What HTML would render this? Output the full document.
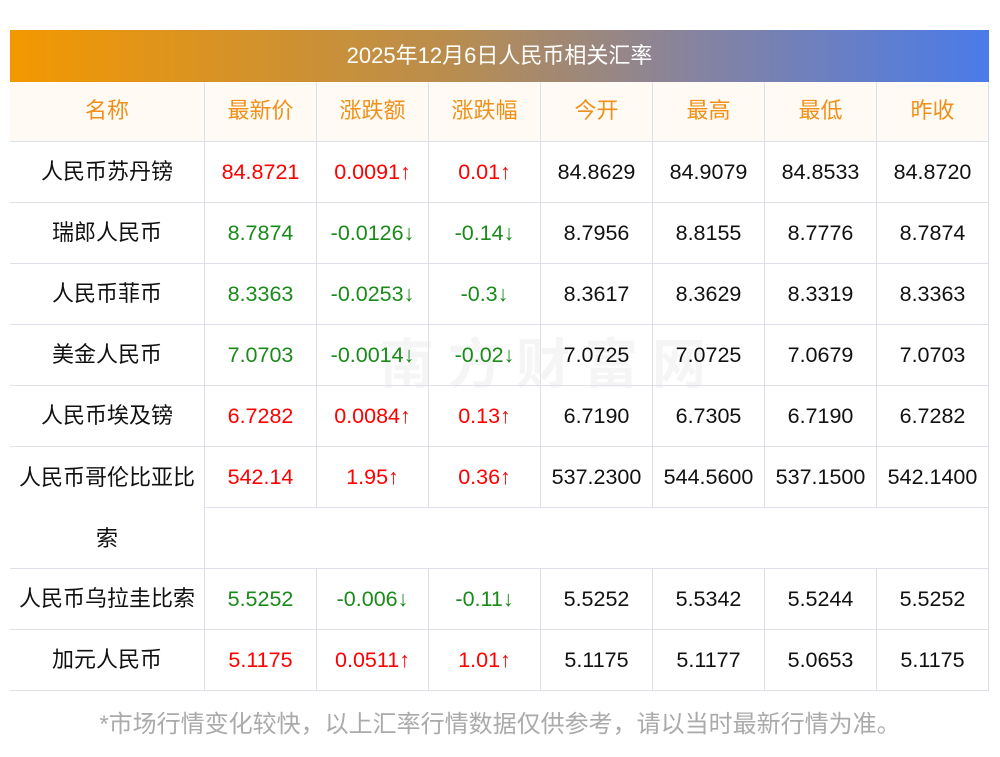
<!DOCTYPE html>
<html><head><meta charset="utf-8"><style>
body{margin:0;width:1000px;height:757px;background:#fff;position:relative;font-family:"Liberation Sans","Noto Sans CJK SC",sans-serif;overflow:hidden}
.t{position:absolute;left:10px;top:30px;width:979px;height:52px;background:linear-gradient(90deg,#f39800,#b98d4e 45%,#8683a0 70%,#4a7be9);color:#fff;font-size:22px;line-height:52px;text-align:center}
.c{position:absolute;height:61px;line-height:60px;text-align:center;font-size:21.5px;color:#111;box-sizing:border-box;border-bottom:1px solid #dfe1ea;border-right:1px solid #dfe1ea}
.n{font-size:22px}
.h{background:#fffaf3;color:#f0901a;height:60px;line-height:58px;font-size:22px}
.r{color:#f00}.g{color:#1a8a1a}
.f{position:absolute;top:705px;left:0;width:1000px;text-align:center;color:#aaa;font-size:24px;line-height:40px;white-space:nowrap}
.wm{position:absolute;left:380px;top:320px;font-size:54px;color:rgba(200,200,200,0.18);letter-spacing:14px;font-weight:bold}
</style></head><body>
<div class="t">2025年12月6日人民币相关汇率</div>
<div class="wm">南方财富网</div>
<div id="g"></div>
<div class="f">*市场行情变化较快，以上汇率行情数据仅供参考，请以当时最新行情为准。</div>
<script>
var X=[10,205,317,429,541,653,765,877,989];
var H=["名称","最新价","涨跌额","涨跌幅","今开","最高","最低","昨收"];
var R=[
["人民币苏丹镑","84.8721","0.0091↑","0.01↑","84.8629","84.9079","84.8533","84.8720","r"],
["瑞郎人民币","8.7874","-0.0126↓","-0.14↓","8.7956","8.8155","8.7776","8.7874","g"],
["人民币菲币","8.3363","-0.0253↓","-0.3↓","8.3617","8.3629","8.3319","8.3363","g"],
["美金人民币","7.0703","-0.0014↓","-0.02↓","7.0725","7.0725","7.0679","7.0703","g"],
["人民币埃及镑","6.7282","0.0084↑","0.13↑","6.7190","6.7305","6.7190","6.7282","r"],
["人民币哥伦比亚比","542.14","1.95↑","0.36↑","537.2300","544.5600","537.1500","542.1400","r"],
["人民币乌拉圭比索","5.5252","-0.006↓","-0.11↓","5.5252","5.5342","5.5244","5.5252","g"],
["加元人民币","5.1175","0.0511↑","1.01↑","5.1175","5.1177","5.0653","5.1175","r"]];
var s="";
function cell(x,y,w,h,cls,txt){s+='<div class="c '+cls+'" style="left:'+x+'px;top:'+y+'px;width:'+w+'px;height:'+h+'px">'+txt+'</div>';}
for(var i=0;i<8;i++)cell(X[i],82,X[i+1]-X[i],60,"h",H[i]);
var ys=[142,203,264,325,386,447,569,630];
for(var r=0;r<8;r++){var y=ys[r];
 for(var i=0;i<8;i++){var cls=(i>=1&&i<=3)?R[r][8]:(i==0?"n":"");
  if(r==5&&i==0){s+='<div class="c n" style="left:10px;top:447px;width:195px;height:122px;line-height:61px">人民币哥伦比亚比<br>索</div>';continue;}
  cell(X[i],y,X[i+1]-X[i],61,cls,R[r][i]);}
 if(r==5)cell(205,508,784,61,"","");
}
document.getElementById("g").innerHTML=s;
</script>
</body></html>
